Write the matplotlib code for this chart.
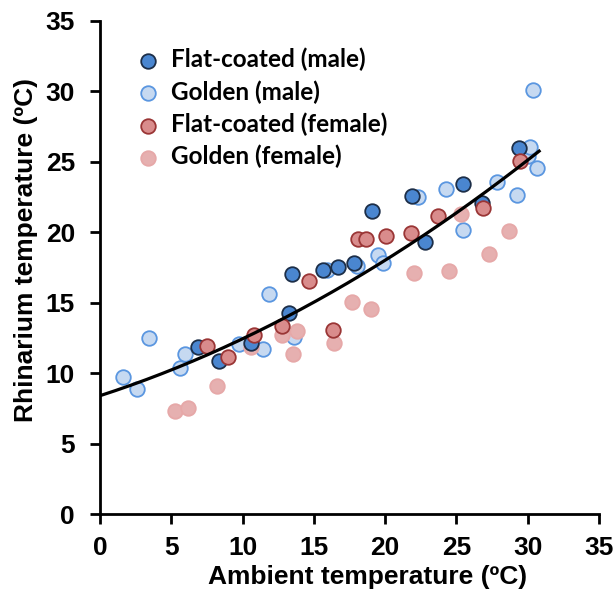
import matplotlib
matplotlib.use('Agg')
import matplotlib.pyplot as plt
import numpy as np

# ambient temp (x) / rhinarium temp (y)
flat_m_x = [6.90, 8.35, 10.57, 13.25, 13.46, 15.66, 16.67, 17.81, 19.07, 21.85, 22.8, 25.48, 26.77, 29.36]
flat_m_y = [11.83, 10.84, 12.14, 14.29, 17.01, 17.32, 17.55, 17.79, 21.5, 22.57, 19.28, 23.40, 22.09, 25.98]

gold_m_x = [1.64, 2.62, 3.46, 5.61, 5.98, 9.77, 11.41, 11.88, 13.62, 15.95, 18.04, 19.52, 19.83,
            22.33, 24.26, 25.48, 27.82, 29.22, 30.04, 30.18, 30.35, 30.63]
gold_m_y = [9.70, 8.89, 12.51, 10.36, 11.38, 12.04, 11.69, 15.59, 12.58, 17.32, 17.6, 18.36, 17.79,
            22.48, 23.07, 20.16, 23.56, 22.66, 25.41, 26.07, 30.09, 24.53]

flat_f_x = [7.53, 9.00, 10.8, 12.79, 14.66, 16.32, 18.11, 18.65, 20.03, 21.8, 23.68, 26.84, 29.45]
flat_f_y = [11.95, 11.17, 12.68, 13.37, 16.54, 13.06, 19.52, 19.52, 19.73, 19.92, 21.17, 21.70, 25.07]

gold_f_x = [5.24, 6.19, 8.18, 10.59, 12.79, 13.55, 13.79, 16.43, 17.65, 19.0, 22.0, 24.45, 25.29, 27.25, 28.70]
gold_f_y = [7.33, 7.55, 9.06, 11.83, 12.70, 11.33, 13.01, 12.14, 15.05, 14.57, 17.08, 17.25, 21.27, 18.43, 20.06]

# trend line (2nd order poly)
trend = [0.00767, 0.3272, 8.4]
trend_x = [0, 30.8]

fig = plt.figure(figsize=(6.15, 5.95), dpi=100)
ax = fig.add_axes([0.1626, 0.136, 0.8114, 0.829])

ms = 110
lw = 1.3
ax.scatter(flat_m_x, flat_m_y, s=ms, c='#4a86d0', edgecolors='#1c2e48', linewidths=lw,
           label='Flat-coated (male)', zorder=3)
ax.scatter(gold_m_x, gold_m_y, s=ms, c='#c6d9f1', edgecolors='#5a96e0', linewidths=lw,
           label='Golden (male)', zorder=2)
ax.scatter(flat_f_x, flat_f_y, s=ms, c='#d98c8c', edgecolors='#9a3535', linewidths=lw,
           label='Flat-coated (female)', zorder=3)
ax.scatter(gold_f_x, gold_f_y, s=ms, c='#e6b0b0', edgecolors='#e6a8a8', linewidths=lw,
           label='Golden (female)', zorder=2)

xx = np.linspace(trend_x[0], trend_x[1], 200)
ax.plot(xx, np.polyval(trend, xx), color='black', lw=2.3, zorder=4)

ax.set_xlim(0, 35)
ax.set_ylim(0, 35)
ax.set_xticks(range(0, 36, 5))
ax.set_yticks(range(0, 36, 5))
for s in ['top', 'right']:
    ax.spines[s].set_visible(False)
for s in ['left', 'bottom']:
    ax.spines[s].set_linewidth(2)
ax.tick_params(axis='x', direction='out', length=7, width=2, pad=9)
ax.tick_params(axis='y', direction='out', length=7, width=2, pad=11)
for lab in ax.get_xticklabels() + ax.get_yticklabels():
    lab.set_fontfamily('Liberation Sans')
    lab.set_fontweight('bold')
    lab.set_fontsize(19)

ax.set_xlabel('Ambient temperature (ºC)', fontsize=19, fontweight='bold',
              family='Liberation Sans')
ax.set_ylabel('Rhinarium temperature (ºC)', fontsize=19, fontweight='bold',
              family='Liberation Sans')
ax.xaxis.set_label_coords(0.537, -0.103)
ax.yaxis.set_label_coords(-0.124, 0.535)

leg = ax.legend(loc='upper left', bbox_to_anchor=(0.04, 0.965), frameon=False,
                prop={'family': 'Lato', 'weight': 'bold', 'size': 17.5},
                handlelength=1.5, handletextpad=0.2, labelspacing=0.36, borderaxespad=0)

fig.savefig('out.png', dpi=100)
